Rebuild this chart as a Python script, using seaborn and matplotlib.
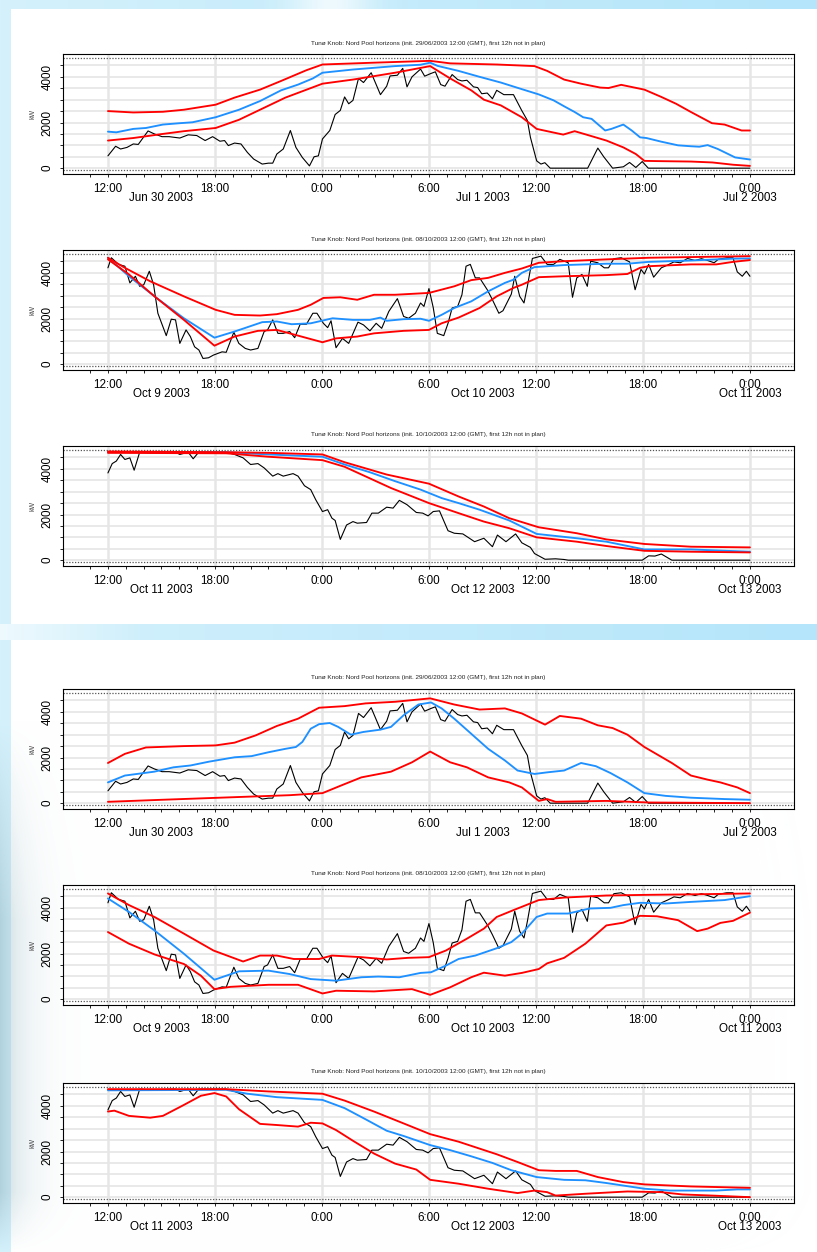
import numpy as np
import pandas as pd
import matplotlib
matplotlib.use("Agg")
import matplotlib.pyplot as plt
import seaborn as sns

# ---------------------------------------------------------------- data
# Hours after the forecast start (12:00 GMT) and production in kW.

TIME_TICKS = [0, 6, 12, 18, 24, 30, 36]
TIME_LABELS = ["12:00", "18:00", "0:00", "6:00", "12:00", "18:00", "0:00"]
DATE_POS = [3, 21, 36]

TITLE_JUN = "Tunø Knob: Nord Pool horizons (init. 29/06/2003 12:00 (GMT), first 12h not in plan)"
TITLE_OCT8 = "Tunø Knob: Nord Pool horizons (init. 08/10/2003 12:00 (GMT), first 12h not in plan)"
TITLE_OCT10 = "Tunø Knob: Nord Pool horizons (init. 10/10/2003 12:00 (GMT), first 12h not in plan)"
DATES_JUN = ["Jun 30 2003", "Jul 1 2003", "Jul 2 2003"]
DATES_OCT8 = ["Oct 9 2003", "Oct 10 2003", "Oct 11 2003"]
DATES_OCT10 = ["Oct 11 2003", "Oct 12 2003", "Oct 13 2003"]

OBS_RANGE = [-70, 4810]

# measured production
OBS_JUN = [(0, 540), (0.43, 960), (0.71, 840), (1.07, 910), (1.42, 1060), (1.7, 1040), (2.25, 1630),
           (2.6, 1500), (3.03, 1380), (3.43, 1380), (4.03, 1320), (4.5, 1460), (4.98, 1430), (5.45, 1210),
           (5.87, 1380), (6.28, 1180), (6.54, 1210), (6.75, 990), (7.1, 1100), (7.46, 1060), (7.82, 690),
           (8.17, 400), (8.65, 180), (9.0, 220), (9.24, 220), (9.47, 620), (9.83, 840), (10.23, 1650),
           (10.54, 910), (10.9, 470), (11.3, 100), (11.56, 500), (11.8, 540), (12.03, 1280), (12.44, 1650),
           (12.74, 2350), (13.03, 2530), (13.27, 3120), (13.5, 2820), (13.74, 2970), (14.05, 3930),
           (14.33, 3750), (14.76, 4180), (15.28, 3220), (15.63, 3590), (15.82, 4040), (16.23, 4070),
           (16.53, 4370), (16.77, 3560), (17.05, 4000), (17.53, 4340), (17.76, 4030), (18.12, 4150),
           (18.36, 4220), (18.66, 3660), (18.9, 3590), (19.3, 4100), (19.61, 3880), (19.85, 3820),
           (20.13, 3850), (20.5, 3560), (20.73, 3530), (20.96, 3260), (21.27, 3290), (21.56, 3040),
           (21.8, 3410), (22.2, 3220), (22.74, 3220), (23.2, 2530), (23.52, 2090), (23.69, 1350),
           (24.04, 320), (24.28, 180), (24.5, 240), (24.8, 0), (26.9, 0), (27.47, 880), (27.8, 500),
           (28.3, 0), (28.9, 60), (29.25, 250), (29.6, 30), (29.96, 290), (30.3, 0), (36, 0)]

OBS_OCT8 = [(0, 4220), (0.19, 4660), (0.59, 4370), (0.95, 4290), (1.23, 3560), (1.54, 3850), (1.78, 3410),
            (2.01, 3480), (2.32, 4070), (2.56, 3480), (2.8, 2230), (3.27, 1250), (3.55, 1970), (3.79, 1940),
            (4.03, 910), (4.38, 1500), (4.62, 1210), (4.86, 760), (5.1, 620), (5.33, 250), (5.64, 280),
            (5.92, 400), (6.4, 540), (6.63, 520), (7.06, 1400), (7.34, 910), (7.7, 690), (8.0, 620),
            (8.41, 690), (8.76, 1430), (8.95, 1500), (9.24, 1940), (9.53, 1350), (9.83, 1350), (10.19, 1430),
            (10.47, 1160), (10.78, 1750), (11.13, 1750), (11.49, 2230), (11.72, 2230), (12.08, 1790),
            (12.32, 1600), (12.51, 1900), (12.79, 720), (13.15, 1130), (13.5, 910), (14.02, 1840),
            (14.33, 1720), (14.69, 1460), (15.04, 1790), (15.35, 1570), (15.75, 2310), (16.23, 2870),
            (16.58, 2090), (16.86, 2010), (17.24, 2230), (17.53, 2680), (17.72, 2530), (18.0, 3310),
            (18.24, 2480), (18.47, 1350), (18.83, 1250), (19.07, 1790), (19.3, 2460), (19.61, 2530),
            (19.85, 3040), (20.08, 4290), (20.32, 4370), (20.6, 3780), (20.84, 3780), (21.27, 3260),
            (21.56, 2820), (21.92, 2230), (22.15, 2340), (22.62, 3070), (22.81, 3850), (23.09, 2970),
            (23.33, 2680), (23.52, 3410), (23.8, 4630), (24.28, 4730), (24.63, 4370), (24.99, 4370),
            (25.34, 4590), (25.81, 4440), (26.05, 2930), (26.29, 3780), (26.58, 3930), (26.88, 3410),
            (27.07, 4510), (27.47, 4440), (27.83, 4220), (28.07, 4220), (28.37, 4620), (28.78, 4660),
            (29.25, 4480), (29.56, 3260), (29.89, 4150), (30.08, 3950), (30.32, 4370), (30.6, 3810),
            (31.03, 4220), (31.38, 4340), (31.74, 4480), (32.09, 4440), (32.5, 4630), (32.92, 4540),
            (33.28, 4620), (33.63, 4540), (33.99, 4440), (34.22, 4590), (34.7, 4660), (35.05, 4660),
            (35.29, 4040), (35.57, 3850), (35.8, 4070), (36, 3850)]

OBS_OCT10 = [(0, 3820), (0.24, 4230), (0.47, 4340), (0.71, 4630), (0.95, 4410), (1.23, 4480), (1.47, 3940),
             (1.78, 4730), (2.37, 4700), (3.79, 4730), (4.03, 4630), (4.5, 4730), (4.78, 4440), (5.09, 4730),
             (6.63, 4730), (7.1, 4630), (7.58, 4480), (8.0, 4190), (8.41, 4230), (8.76, 4040), (9.24, 3680),
             (9.53, 3790), (9.83, 3680), (10.38, 3790), (10.66, 3680), (11.02, 3260), (11.37, 3090),
             (11.65, 2650), (12.03, 2130), (12.32, 2210), (12.56, 1840), (12.74, 1740), (13.03, 910),
             (13.38, 1540), (13.74, 1690), (13.98, 1620), (14.5, 1650), (14.8, 2060), (15.16, 2060),
             (15.63, 2320), (15.99, 2280), (16.34, 2620), (16.77, 2430), (17.29, 2090), (17.65, 2060),
             (17.95, 1940), (18.24, 2130), (18.59, 2160), (19.07, 1290), (19.42, 1180), (19.9, 1150),
             (20.56, 810), (21.08, 960), (21.56, 590), (21.84, 1100), (22.32, 810), (22.86, 1150),
             (23.21, 760), (23.69, 560), (23.92, 290), (24.51, 40), (25.1, 60), (25.58, 30), (25.81, 0),
             (29.96, 0), (30.32, 190), (30.67, 180), (31.03, 270), (31.62, 0), (36, 0)]

# point forecasts (blue) and quantile band (red), upper slides
BLUE_P1 = [(0, 1600), (0.47, 1570), (1.42, 1720), (2.13, 1760), (3.08, 1910), (4.03, 1970), (4.74, 2010),
           (6.04, 2230), (7.35, 2560), (8.53, 2940), (9.71, 3410), (10.66, 3660), (11.49, 3930), (12.03, 4180),
           (13.74, 4320), (16.1, 4470), (17.53, 4530), (18.07, 4620), (18.48, 4480), (19.66, 4260),
           (20.84, 4000), (22.03, 3750), (23.21, 3460), (24.16, 3230), (24.99, 2970), (25.58, 2710),
           (26.17, 2460), (26.65, 2230), (27.12, 2160), (27.88, 1650), (28.23, 1720), (28.9, 1910),
           (29.37, 1650), (29.84, 1350), (30.2, 1320), (31.03, 1160), (31.97, 1000), (32.69, 960),
           (33.16, 940), (33.63, 1010), (34.2, 840), (35.17, 470), (36, 380)]
UPPER_P1 = [(0, 2500), (1.42, 2440), (3.08, 2470), (4.26, 2560), (6.04, 2780), (7.1, 3090), (8.53, 3440),
            (9.71, 3820), (11.13, 4290), (12.03, 4540), (14.92, 4620), (18.07, 4700), (19.19, 4590),
            (21.8, 4540), (23.92, 4470), (24.63, 4260), (25.58, 3880), (26.53, 3700), (27.6, 3530),
            (28.07, 3510), (28.78, 3650), (30.08, 3440), (31.03, 3120), (31.86, 2820), (32.69, 2460),
            (33.87, 1970), (34.58, 1910), (35.53, 1650), (36, 1650)]
LOWER_P1 = [(0, 1210), (1.42, 1320), (3.08, 1500), (4.26, 1620), (6.04, 1760), (7.35, 2120), (8.53, 2560),
            (9.95, 3090), (12.03, 3700), (13.74, 3880), (16.1, 4180), (18.07, 4470), (19.19, 3930),
            (20.37, 3410), (21.08, 3000), (22.03, 2750), (23.21, 2230), (24.04, 1720), (24.75, 1600),
            (25.53, 1470), (26.17, 1620), (27.0, 1430), (27.95, 1210), (28.9, 910), (29.6, 620),
            (30.08, 320), (30.8, 310), (32.7, 290), (33.9, 250), (35.06, 150), (36, 100)]

BLUE_P2 = [(0, 4660), (1.18, 3850), (2.61, 2970), (4.26, 2010), (5.97, 1160), (7.1, 1430), (7.82, 1620),
           (8.65, 1840), (9.47, 1870), (10.3, 1750), (11.37, 1790), (12.6, 2010), (13.74, 1940), (14.69, 1940),
           (15.28, 2040), (15.63, 1900), (16.58, 1970), (17.53, 1990), (18.0, 1900), (18.71, 2160),
           (19.42, 2460), (20.37, 2750), (21.32, 3190), (22.26, 3560), (22.74, 3700), (23.21, 4000),
           (23.92, 4250), (25.58, 4340), (27.95, 4400), (29.13, 4400), (30.32, 4480), (32.69, 4540),
           (35.05, 4620), (36, 4630)]
UPPER_P2 = [(0, 4660), (0.95, 4220), (2.37, 3630), (4.26, 2970), (6.04, 2380), (7.1, 2160), (8.53, 2130),
            (9.47, 2190), (10.66, 2380), (11.37, 2600), (12.08, 2900), (13.03, 2930), (13.98, 2820),
            (14.92, 3040), (16.1, 3040), (18.0, 3120), (19.42, 3410), (20.37, 3680), (21.32, 3780),
            (22.26, 4000), (23.21, 4190), (24.16, 4440), (25.58, 4510), (27.95, 4590), (30.32, 4660),
            (32.69, 4690), (36, 4730)]
LOWER_P2 = [(0, 4590), (1.18, 3930), (2.61, 2970), (4.26, 1940), (5.97, 810), (7.1, 1210), (8.41, 1460),
            (9.47, 1500), (10.66, 1250), (12.03, 960), (12.79, 1130), (13.98, 1210), (14.92, 1350),
            (16.58, 1460), (18.0, 1500), (18.71, 1790), (19.66, 2040), (20.84, 2460), (21.8, 2970),
            (22.74, 3340), (23.21, 3480), (24.16, 3810), (25.58, 3850), (27.95, 3900), (29.13, 3950),
            (29.84, 4220), (30.32, 4290), (32.69, 4370), (34.11, 4370), (35.05, 4480), (36, 4560)]

BLUE_P3 = [(0, 4730), (6.63, 4730), (9.0, 4630), (12.03, 4530), (13.27, 4190), (14.69, 3850), (16.1, 3460),
           (17.53, 3090), (18.71, 2720), (19.66, 2500), (20.84, 2210), (22.5, 1740), (24.04, 1150),
           (26.29, 960), (27.95, 810), (30.08, 470), (32.69, 470), (36, 370)]
UPPER_P3 = [(0, 4760), (6.63, 4730), (9.0, 4700), (12.03, 4630), (13.27, 4290), (15.63, 3750), (18.0, 3350),
            (19.66, 2790), (21.08, 2350), (22.5, 1840), (24.16, 1440), (26.29, 1180), (27.95, 910),
            (30.08, 710), (32.69, 590), (36, 560)]
LOWER_P3 = [(0, 4700), (6.63, 4680), (9.0, 4530), (12.03, 4380), (13.27, 4090), (15.87, 3160), (18.0, 2500),
            (19.66, 2060), (21.08, 1690), (22.5, 1400), (24.04, 1000), (26.29, 810), (27.95, 620),
            (30.08, 410), (32.69, 370), (36, 340)]

# point forecasts (blue) and quantile band (red), lower slides
BLUE_P4 = [(0, 910), (0.95, 1210), (2.6, 1380), (3.67, 1570), (4.62, 1650), (5.68, 1820), (7.1, 2010),
           (8.05, 2060), (9.0, 2230), (9.95, 2380), (10.54, 2460), (10.9, 2680), (11.37, 3260), (11.84, 3460),
           (12.44, 3510), (12.91, 3340), (13.62, 3000), (14.33, 3120), (15.28, 3220), (15.87, 3340),
           (16.58, 3850), (17.41, 4320), (18.12, 4410), (18.71, 4150), (19.42, 3700), (20.37, 3040),
           (21.32, 2380), (22.26, 1870), (22.97, 1430), (23.92, 1280), (24.63, 1350), (25.58, 1430),
           (26.53, 1760), (27.36, 1620), (28.18, 1320), (29.13, 910), (30.08, 440), (31.27, 320),
           (32.69, 240), (34.58, 180), (36, 150)]
UPPER_P4 = [(0, 1760), (0.95, 2160), (2.13, 2440), (4.26, 2500), (6.04, 2530), (7.1, 2650), (8.29, 2970),
            (9.47, 3380), (10.66, 3700), (11.84, 4180), (13.27, 4250), (14.45, 4370), (16.1, 4440),
            (18.07, 4590), (19.42, 4320), (20.84, 4100), (22.26, 4150), (23.21, 3930), (24.51, 3440),
            (25.34, 3820), (26.53, 3700), (27.47, 3410), (28.3, 3290), (29.13, 3000), (30.08, 2460),
            (31.62, 1760), (32.69, 1210), (33.63, 1030), (34.34, 910), (35.29, 690), (36, 440)]
LOWER_P4 = [(0, 60), (3.08, 150), (6.63, 250), (10.19, 350), (12.03, 440), (13.03, 760), (14.21, 1130),
            (15.87, 1380), (17.05, 1790), (18.07, 2260), (19.19, 1790), (20.13, 1570), (21.32, 1130),
            (22.5, 910), (23.21, 690), (24.16, 100), (24.63, 180), (25.1, 60), (27.95, 100), (30.32, 30),
            (36, 0)]

BLUE_P5 = [(0, 4410), (1.18, 3820), (2.61, 3010), (4.26, 1990), (5.97, 850), (7.35, 1220), (9.0, 1250),
           (10.19, 1100), (11.37, 880), (12.79, 810), (14.21, 960), (15.16, 990), (16.34, 960), (17.53, 1150),
           (18.12, 1180), (18.95, 1470), (19.66, 1760), (20.6, 1910), (21.8, 2230), (22.62, 2500),
           (23.21, 2870), (24.04, 3600), (24.63, 3750), (25.81, 3750), (27.0, 3970), (28.18, 4000),
           (28.9, 4120), (29.84, 4220), (31.27, 4190), (32.69, 4260), (34.58, 4340), (36, 4510)]
UPPER_P5 = [(0, 4630), (1.18, 4120), (2.61, 3600), (4.26, 2870), (5.92, 2130), (7.58, 1650), (8.53, 1910),
            (9.47, 1910), (10.42, 1760), (11.84, 1760), (12.56, 1910), (14.21, 1840), (15.63, 1740),
            (16.82, 1810), (18.0, 1840), (18.95, 2130), (20.13, 2650), (21.08, 3090), (21.8, 3600),
            (22.74, 3900), (23.45, 4120), (24.16, 4340), (25.58, 4450), (27.95, 4540), (30.32, 4570),
            (32.69, 4590), (36, 4630)]
LOWER_P5 = [(0, 2940), (1.18, 2430), (2.61, 1960), (4.26, 1540), (5.21, 1030), (5.97, 440), (6.87, 540),
            (9.0, 630), (10.66, 630), (12.03, 250), (12.79, 370), (14.92, 340), (17.05, 440), (18.07, 190),
            (19.19, 520), (20.37, 960), (21.08, 1160), (22.26, 1030), (23.21, 1150), (24.16, 1320),
            (24.63, 1570), (25.58, 1810), (26.77, 2430), (27.95, 3230), (28.9, 3350), (29.84, 3650),
            (30.79, 3630), (31.97, 3460), (33.04, 2980), (33.63, 3090), (34.34, 3340), (35.05, 3430),
            (36, 3790)]

BLUE_P6 = [(0, 4680), (6.63, 4700), (7.82, 4530), (9.47, 4380), (12.03, 4260), (13.27, 3900), (14.45, 3410),
           (15.63, 2910), (16.58, 2680), (18.07, 2280), (19.19, 2060), (20.37, 1790), (21.56, 1500),
           (22.62, 1180), (24.04, 880), (25.58, 760), (26.77, 740), (27.95, 620), (30.08, 370), (31.5, 290),
           (34.1, 290), (35.29, 340), (36, 340)]
UPPER_P6 = [(0, 4730), (6.63, 4730), (9.0, 4630), (12.03, 4530), (13.27, 4230), (14.92, 3750), (16.58, 3230),
            (18.07, 2760), (19.66, 2430), (21.8, 1880), (22.97, 1540), (24.16, 1180), (25.1, 1150),
            (26.29, 1150), (27.47, 880), (28.9, 660), (30.08, 560), (32.69, 470), (36, 410)]
LOWER_P6 = [(0, 3750), (0.36, 3790), (1.18, 3560), (2.37, 3480), (3.08, 3560), (4.26, 4040), (5.21, 4440),
            (5.97, 4560), (6.63, 4410), (7.35, 3850), (8.53, 3210), (9.47, 3160), (10.66, 3090), (11.37, 3260),
            (12.03, 3230), (12.79, 2940), (13.74, 2470), (14.92, 1910), (16.1, 1470), (17.29, 1210),
            (18.07, 760), (19.66, 590), (21.32, 370), (22.97, 180), (23.92, 290), (24.63, 220), (25.1, 70),
            (26.77, 150), (29.13, 250), (31.03, 220), (32.2, 120), (33.87, 70), (36, 0)]

PANELS = [
    (TITLE_JUN, DATES_JUN, OBS_JUN, BLUE_P1, UPPER_P1, LOWER_P1),
    (TITLE_OCT8, DATES_OCT8, OBS_OCT8, BLUE_P2, UPPER_P2, LOWER_P2),
    (TITLE_OCT10, DATES_OCT10, OBS_OCT10, BLUE_P3, UPPER_P3, LOWER_P3),
    (TITLE_JUN, DATES_JUN, OBS_JUN, BLUE_P4, UPPER_P4, LOWER_P4),
    (TITLE_OCT8, DATES_OCT8, OBS_OCT8, BLUE_P5, UPPER_P5, LOWER_P5),
    (TITLE_OCT10, DATES_OCT10, OBS_OCT10, BLUE_P6, UPPER_P6, LOWER_P6),
]

# ---------------------------------------------------------------- style
sns.set_theme(style="white")
plt.rcParams["font.family"] = ["Liberation Sans", "DejaVu Sans"]

W, H = 817, 1252
fig = plt.figure(figsize=(W / 100, H / 100), dpi=100)

# slide background: pale blue frame with two white content cards
xs = np.linspace(0, 1, W)
left_c = np.array([212, 241, 252]) / 255
right_c = np.array([180, 229, 250]) / 255
bg = left_c[None, None, :] * (1 - xs)[None, :, None] + right_c[None, None, :] * xs[None, :, None]
bg = np.repeat(bg, H, axis=0)
# soft highlight in the top strip and the middle strip
glow = np.exp(-((np.arange(W) - 330) / 40.0) ** 2)
bg[0:9] = bg[0:9] * (1 - 0.7 * glow[None, :, None]) + 0.7 * glow[None, :, None]
streak = np.clip((140 - np.arange(W)) / 140.0, 0, 1) * 0.6
bg[624:640] = bg[624:640] * (1 - streak[None, :, None]) + streak[None, :, None]
bg[9:624, 11:] = 1.0
bg[640:, 11:] = 1.0
# faded photo at the lower left edge
teal = np.array([150, 185, 196]) / 255
colw = np.exp(-np.arange(W) / 22.0)
roww = np.clip((np.arange(H) - 720) / 200.0, 0, 1) * np.clip((1252 - np.arange(H)) / 60.0, 0, 1)
wgt = 0.55 * roww[:, None] * colw[None, :]
bg = bg * (1 - wgt[:, :, None]) + teal[None, None, :] * wgt[:, :, None]

bg_ax = fig.add_axes([0, 0, 1, 1], zorder=-10)
bg_ax.imshow(bg, aspect="auto", interpolation="bilinear")
bg_ax.axis("off")

BOXES = [(54, 174), (250, 370), (446, 566), (689, 809), (885, 1005), (1083, 1203)]
AX_L, AX_R = 63, 794

RED = "#ff0000"
BLUE = "#1e90ff"


def draw_line(ax, pts, color, lw, z):
    df = pd.DataFrame(pts, columns=["hour", "kW"])
    sns.lineplot(data=df, x="hour", y="kW", ax=ax, color=color, linewidth=lw,
                 estimator=None, sort=False, zorder=z)


for (top, bot), (title, dates, obs, blue, upper, lower) in zip(BOXES, PANELS):
    ax = fig.add_axes([AX_L / W, 1 - bot / H, (AX_R - AX_L) / W, (bot - top) / H])
    ax.set_facecolor("white")
    ax.set_xlim(-2.52, 38.47)
    ax.set_ylim(-255, 5000)

    for v in np.arange(0, 5000, 500):
        ax.axhline(v, color="#e3e3e3", lw=1.1, zorder=0.5)
    for t in TIME_TICKS:
        ax.axvline(t, color="#e6e6e6", lw=1.8, zorder=0.5)
    for v in OBS_RANGE:
        ax.axhline(v, color="#555555", lw=0.9, ls=(0, (1, 1.3)), zorder=1)

    draw_line(ax, obs, "black", 0.8, 2)
    draw_line(ax, blue, BLUE, 1.35, 3)
    draw_line(ax, upper, RED, 1.35, 4)
    draw_line(ax, lower, RED, 1.35, 4)

    ax.set_xlabel("")
    ax.set_ylabel("")
    ax.set_xticks(TIME_TICKS)
    ax.set_xticklabels(TIME_LABELS)
    ax.set_xticks(np.arange(-1, 37), minor=True)
    ax.tick_params(axis="x", which="both", direction="out", length=2.2, width=0.6,
                   pad=4.3, labelsize=8.4, colors="black", bottom=True)
    ax.set_yticks([0, 2000, 4000])
    ax.set_yticklabels(["0", "2000", "4000"], rotation=90, va="center")
    ax.set_yticks(np.arange(0, 5000, 500), minor=True)
    ax.tick_params(axis="y", which="both", direction="out", length=2.2, width=0.6,
                   pad=4.8, labelsize=8.4, colors="black", left=True)
    for s in ax.spines.values():
        s.set_color("black")
        s.set_linewidth(0.8)

    for pos, lab in zip(DATE_POS, dates):
        ax.annotate(lab, xy=(pos, 0), xycoords=("data", "axes fraction"),
                    xytext=(0, -24 * 0.72), textcoords="offset points",
                    ha="center", va="center", fontsize=8.4, color="black")
    ax.annotate(title, xy=(0.5, 1), xycoords="axes fraction",
                xytext=(0, 11 * 0.72), textcoords="offset points",
                ha="center", va="center", fontsize=4.6, color="#222222")
    ax.text(-0.041, 0.5, "kW", rotation=90, transform=ax.transAxes,
            ha="center", va="center", fontsize=5, color="#444444")

fig.savefig("out.png", dpi=100)
